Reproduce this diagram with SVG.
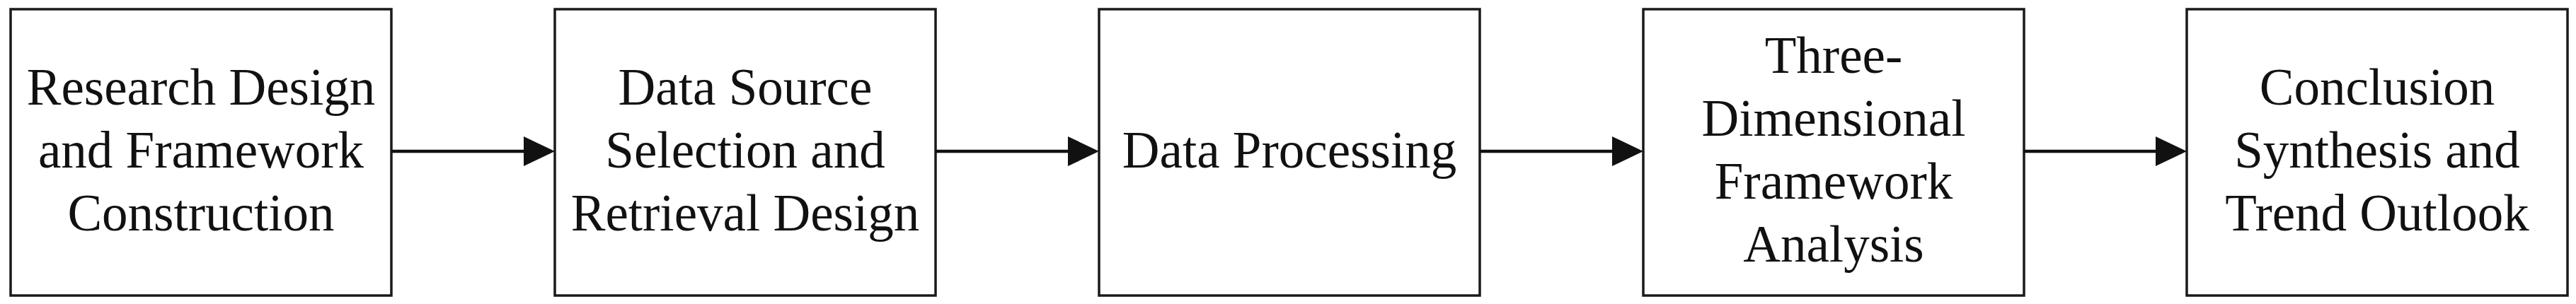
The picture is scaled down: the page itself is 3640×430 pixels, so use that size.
<svg xmlns="http://www.w3.org/2000/svg" width="3640" height="430" viewBox="0 0 3640 430">
<style>
.box{fill:#ffffff;stroke:#1a1a1a;stroke-width:3.5}
.lbl{font-family:"Liberation Serif","Times New Roman",serif;font-size:73px;fill:#111111;text-anchor:middle}
.conn{stroke:#111111;stroke-width:4.5;fill:none}
.head{fill:#111111}
</style>
<rect x="0" y="0" width="3640" height="430" fill="#ffffff"/>
<g id="node1">
<rect class="box" x="15" y="13" width="538" height="405"/>
<text class="lbl" x="284" y="148">Research Design</text>
<text class="lbl" x="284" y="237">and Framework</text>
<text class="lbl" x="284" y="326">Construction</text>
</g>
<g id="node2">
<rect class="box" x="784" y="13" width="538" height="405"/>
<text class="lbl" x="1053" y="148">Data Source</text>
<text class="lbl" x="1053" y="237">Selection and</text>
<text class="lbl" x="1053" y="326">Retrieval Design</text>
</g>
<g id="node3">
<rect class="box" x="1553" y="13" width="538" height="405"/>
<text class="lbl" x="1822" y="237">Data Processing</text>
</g>
<g id="node4">
<rect class="box" x="2322" y="13" width="538" height="405"/>
<text class="lbl" x="2591" y="103">Three-</text>
<text class="lbl" x="2591" y="192">Dimensional</text>
<text class="lbl" x="2591" y="281">Framework</text>
<text class="lbl" x="2591" y="370">Analysis</text>
</g>
<g id="node5">
<rect class="box" x="3090" y="13" width="538" height="405"/>
<text class="lbl" x="3359" y="148">Conclusion</text>
<text class="lbl" x="3359" y="237">Synthesis and</text>
<text class="lbl" x="3359" y="326">Trend Outlook</text>
</g>
<g id="connectors">
<line class="conn" x1="553" y1="214" x2="742" y2="214"/>
<polygon class="head" points="740,193 784,214 740,235"/>
<line class="conn" x1="1322" y1="214" x2="1511" y2="214"/>
<polygon class="head" points="1509,193 1553,214 1509,235"/>
<line class="conn" x1="2091" y1="214" x2="2280" y2="214"/>
<polygon class="head" points="2278,193 2322,214 2278,235"/>
<line class="conn" x1="2860" y1="214" x2="3048" y2="214"/>
<polygon class="head" points="3046,193 3090,214 3046,235"/>
</g>
</svg>
